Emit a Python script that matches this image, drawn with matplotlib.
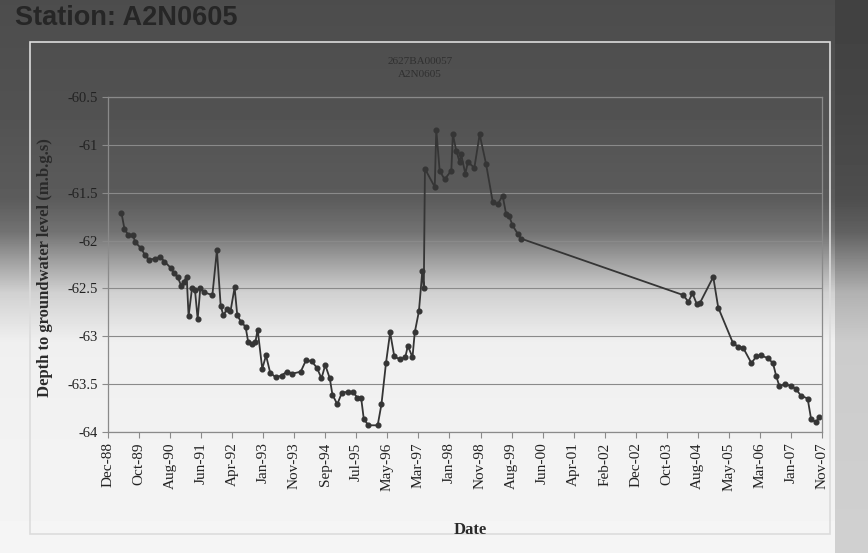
import numpy as np
import pandas as pd

import matplotlib
matplotlib.use('Agg')
import matplotlib.pyplot as plt
import matplotlib.dates as mdates
from matplotlib.patches import Rectangle

plt.rcParams['axes.unicode_minus'] = False
plt.rcParams['font.family'] = ['Liberation Serif', 'DejaVu Serif']

STATION = 'Station: A2N0605'
TITLE = '2627BA00057\nA2N0605'
Y_LABEL = 'Depth to groundwater level (m.b.g.s)'
X_LABEL = 'Date'

# 读数：年份(小数) 与 水位
years = [
    1989.31, 1989.39, 1989.49, 1989.61, 1989.68, 1989.83, 1989.93, 1990.04,
    1990.19, 1990.34, 1990.45, 1990.63, 1990.70, 1990.80, 1990.89, 1990.96,
    1991.04, 1991.09, 1991.18, 1991.26, 1991.33, 1991.40, 1991.50, 1991.72,
    1991.84, 1991.94, 1992.01, 1992.12, 1992.20, 1992.31, 1992.38, 1992.48,
    1992.60, 1992.67, 1992.77, 1992.86, 1992.92, 1993.04, 1993.14, 1993.25,
    1993.40, 1993.55, 1993.69, 1993.84, 1994.06, 1994.20, 1994.35, 1994.49,
    1994.61, 1994.71, 1994.83, 1994.90, 1995.03, 1995.15, 1995.30, 1995.44,
    1995.56, 1995.66, 1995.73, 1995.85, 1996.10, 1996.20, 1996.32, 1996.43,
    1996.54, 1996.68, 1996.83, 1996.90, 1997.02, 1997.08, 1997.19, 1997.28,
    1997.32, 1997.35, 1997.61, 1997.65, 1997.74, 1997.87, 1998.05, 1998.09,
    1998.18, 1998.27, 1998.31, 1998.42, 1998.49, 1998.66, 1998.80, 1998.97,
    1999.15, 1999.28, 1999.41, 1999.50, 1999.58, 1999.67, 1999.81, 1999.90,
    2004.20, 2004.33, 2004.44, 2004.55, 2004.64, 2004.99, 2005.12, 2005.51,
    2005.65, 2005.78, 2006.00, 2006.13, 2006.26, 2006.44, 2006.57, 2006.66,
    2006.74, 2006.88, 2007.05, 2007.18, 2007.31, 2007.49, 2007.58, 2007.71,
    2007.80,
]
levels = [
    -61.71, -61.88, -61.94, -61.94, -62.02, -62.08, -62.15, -62.20,
    -62.19, -62.17, -62.22, -62.29, -62.34, -62.38, -62.47, -62.43,
    -62.38, -62.79, -62.50, -62.52, -62.82, -62.50, -62.54, -62.57,
    -62.10, -62.68, -62.78, -62.71, -62.74, -62.49, -62.78, -62.85,
    -62.90, -63.06, -63.08, -63.06, -62.93, -63.34, -63.20, -63.38,
    -63.43, -63.41, -63.37, -63.39, -63.37, -63.25, -63.26, -63.33,
    -63.44, -63.30, -63.44, -63.61, -63.71, -63.59, -63.58, -63.58,
    -63.64, -63.64, -63.86, -63.93, -63.93, -63.71, -63.28, -62.96,
    -63.21, -63.24, -63.22, -63.10, -63.22, -62.96, -62.74, -62.32,
    -62.50, -61.25, -61.44, -60.84, -61.27, -61.36, -61.27, -60.89,
    -61.06, -61.18, -61.10, -61.30, -61.18, -61.24, -60.89, -61.20,
    -61.60, -61.62, -61.53, -61.72, -61.74, -61.84, -61.93, -61.98,
    -62.57, -62.64, -62.55, -62.66, -62.65, -62.38, -62.70, -63.07,
    -63.11, -63.12, -63.28, -63.21, -63.20, -63.23, -63.28, -63.42,
    -63.52, -63.50, -63.52, -63.55, -63.62, -63.65, -63.86, -63.90,
    -63.84,
]

x_tick_labels = [
    'Dec-88', 'Oct-89', 'Aug-90', 'Jun-91', 'Apr-92', 'Jan-93', 'Nov-93',
    'Sep-94', 'Jul-95', 'May-96', 'Mar-97', 'Jan-98', 'Nov-98', 'Aug-99',
    'Jun-00', 'Apr-01', 'Feb-02', 'Dec-02', 'Oct-03', 'Aug-04', 'May-05',
    'Mar-06', 'Jan-07', 'Nov-07',
]
y_ticks = [-64, -63.5, -63, -62.5, -62, -61.5, -61, -60.5]
y_tick_labels = ['-64', '-63.5', '-63', '-62.5', '-62', '-61.5', '-61', '-60.5']


def to_dates(dec_years):
    """小数年份 -> 日期"""
    dec = np.asarray(dec_years, dtype=float)
    whole = np.floor(dec).astype(int)
    start = pd.to_datetime(whole.astype(str), format='%Y')
    return start + pd.to_timedelta((dec - whole) * 365.25, unit='D')


W, H = 868, 553
fig = plt.figure(figsize=(W / 100, H / 100), dpi=100)

# 照片的明暗背景
bg = fig.add_axes([0, 0, 1, 1], zorder=-10)
rows = np.linspace(0, 1, H)
shade = np.interp(rows, [0, .2, .36, .42, .47, .53, .62, 1],
                  [.30, .32, .36, .45, .62, .82, .94, .96])
cols = np.linspace(0, 1, W)
side = np.where(cols > 0.962, 0.85, 1.0)
bg.imshow(shade[:, None] * side[None, :], cmap='gray', vmin=0, vmax=1,
          aspect='auto', extent=[0, 1, 0, 1])
bg.axis('off')

fig.patches.append(Rectangle((30 / W, 1 - 534 / H), 800 / W, 492 / H,
                             transform=fig.transFigure, fill=False,
                             ec='#dcdcdc', lw=1.2))

fig.text(15 / W, 1 - 18 / H, STATION, family='Liberation Sans', weight='bold',
         fontsize=19.5, color='#262626', va='center', ha='left')
fig.text(420 / W, 1 - 68 / H, TITLE, fontsize=8, color='#303030',
         ha='center', va='center', linespacing=1.6)

ax = fig.add_axes([108 / W, 1 - 432 / H, 714 / W, 335 / H])
ax.set_facecolor('none')

dates = to_dates(years)
ax.plot(dates, levels, color='#353535', lw=1.3, marker='o', ms=3.4,
        mfc='#353535', mec='#353535')

t0 = mdates.date2num(pd.Timestamp('1988-12-15'))
t1 = mdates.date2num(pd.Timestamp('2007-11-15'))
ticks = np.linspace(t0, t1, len(x_tick_labels))
ax.set_xlim(t0, t1)
ax.set_xticks(ticks)
ax.set_xticklabels(x_tick_labels, rotation=90, fontsize=11, color='#222222')

ax.set_ylim(-64, -60.5)
ax.set_yticks(y_ticks)
ax.set_yticklabels(y_tick_labels, fontsize=10.5, color='#2a2a2a')

ax.grid(axis='y', color='#8a8a8a', lw=0.8)
ax.set_axisbelow(True)
for s in ax.spines.values():
    s.set_color('#8a8a8a')
    s.set_linewidth(0.9)
ax.tick_params(axis='both', colors='#8a8a8a', labelcolor='#222222',
               length=4, direction='out')

fig.text(45 / W, 1 - 268 / H, Y_LABEL, rotation=90, fontsize=12,
         weight='bold', color='#2a2a2a', ha='center', va='center')
fig.text(470 / W, 1 - 530 / H, X_LABEL, fontsize=12, weight='bold',
         color='#2a2a2a', ha='center', va='center')

fig.savefig('out.png', dpi=100)
